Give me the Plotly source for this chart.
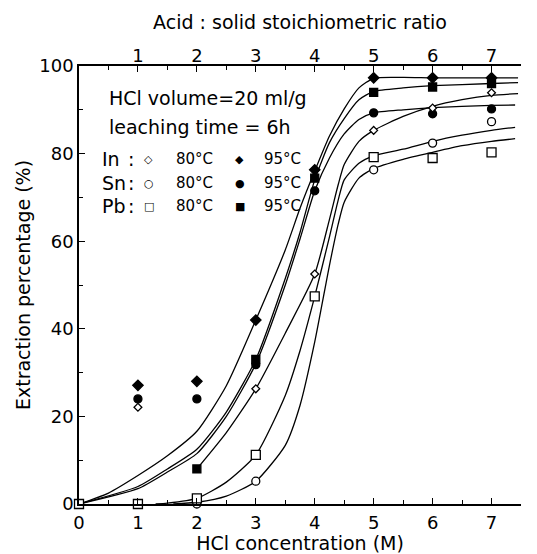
import plotly.graph_objects as go

# ---------------- data ----------------
conc = [0, 1, 2, 3, 4, 5, 6, 7]

# measured points (None = not visible / hidden)
in_80 = [None, 22.1, None, 26.3, 52.5, 85.3, 90.4, 93.9]
in_95 = [None, 27.1, 28.0, 42.0, 76.3, 97.3, 97.3, 97.3]
sn_80 = [None, None, 0.0, 5.2, None, 76.3, 82.4, 87.3]
sn_95 = [None, 24.0, 24.0, 31.8, 71.5, 89.3, 89.1, 90.2]
pb_80 = [0.0, 0.0, 1.3, 11.2, 47.4, 79.2, 79.0, 80.3]
pb_95 = [None, None, 8.0, 33.0, 74.4, 94.0, 95.2, 96.0]

# fitted curves
fit_in95_x = [0, 0.5, 1, 1.5, 2, 2.5, 3, 3.5, 3.75, 4, 4.25, 4.5, 4.75, 5, 5.5, 6, 6.5, 7, 7.45]
fit_in95_y = [0, 2.5, 6.5, 11, 16.6, 27, 42, 58, 67.5, 76, 84, 90.2, 95, 97.2, 97.4, 97.3, 97.3, 97.3, 97.3]

fit_pb95_x = [0, 1, 1.5, 2, 2.5, 3, 3.5, 3.75, 4, 4.25, 4.5, 4.75, 5, 5.5, 6, 7, 7.45]
fit_pb95_y = [0, 4, 8, 12.5, 21, 33, 51.5, 62, 74, 82.5, 88, 92.3, 94.2, 95, 95.5, 96, 96.2]

fit_sn95_x = [0, 1, 1.5, 2, 2.5, 3, 3.5, 3.75, 4, 4.25, 4.5, 4.75, 5, 5.5, 6, 7, 7.4]
fit_sn95_y = [0, 3.5, 7.3, 11.5, 20, 32, 50, 60.5, 71.5, 79, 84.5, 87.8, 89.3, 90, 90.5, 91, 91.1]

fit_in80_x = [2, 2.5, 3, 3.5, 4, 4.25, 4.4, 4.5, 4.75, 5, 5.5, 6, 6.5, 7, 7.45]
fit_in80_y = [8, 16.3, 26.3, 39, 52.5, 65, 73, 77.5, 82.8, 85.3, 88.5, 90.8, 92.3, 93.3, 93.7]

fit_pb80_x = [1.3, 1.5, 2, 2.5, 3, 3.5, 3.75, 4, 4.25, 4.4, 4.5, 4.75, 5, 5.5, 6, 6.5, 7, 7.4]
fit_pb80_y = [0, 0.2, 1.3, 5, 11.2, 24.8, 35, 47.4, 61, 69.5, 74, 77.8, 79.5, 81, 82.8, 84.2, 85.3, 86]

fit_sn80_x = [1.6, 2, 2.5, 3, 3.5, 3.75, 4, 4.25, 4.4, 4.5, 4.75, 5, 5.5, 6, 6.5, 7, 7.4]
fit_sn80_y = [0, 0.4, 1.8, 5.2, 13.4, 22.5, 37, 54.5, 64, 68.9, 74.4, 76.6, 78.7, 80.3, 81.8, 82.8, 83.4]

top_ticks = [1, 2, 3, 4, 5, 6, 7]
y_ticks = [0, 20, 40, 60, 80, 100]

# ---------------- figure ----------------
FONT = "DejaVu Sans"
fig = go.Figure()

curves = [
    (fit_in95_x, fit_in95_y), (fit_pb95_x, fit_pb95_y), (fit_sn95_x, fit_sn95_y),
    (fit_in80_x, fit_in80_y), (fit_pb80_x, fit_pb80_y), (fit_sn80_x, fit_sn80_y),
]
for cx, cy in curves:
    fig.add_trace(go.Scatter(x=cx, y=cy, mode="lines",
                             line=dict(color="black", width=1.3, shape="spline", smoothing=0.6),
                             hoverinfo="skip", showlegend=False, cliponaxis=False))

def pts(vals, symbol, size, filled):
    fig.add_trace(go.Scatter(
        x=conc, y=vals, mode="markers", showlegend=False, cliponaxis=False,
        marker=dict(symbol=symbol, size=size,
                    color="black" if filled else "white",
                    line=dict(color="black", width=1.3))))

pts(in_95, "diamond", 8, True)
pts(sn_95, "circle", 8, True)
pts(pb_95, "square", 8, True)
pts(in_80, "diamond", 6, False)
pts(sn_80, "circle", 8, False)
pts(pb_80, "square", 9, False)

# top axis carrier (invisible)
fig.add_trace(go.Scatter(x=[None], y=[None], xaxis="x2", showlegend=False, hoverinfo="skip"))

axis_common = dict(showgrid=False, zeroline=False, showline=True, linecolor="black",
                   linewidth=1.6, ticks="inside", tickcolor="black", tickwidth=1.3,
                   ticklen=6, automargin=False,
                   tickfont=dict(family=FONT, size=18, color="black"))

fig.update_layout(
    width=537, height=554,
    margin=dict(l=79, r=16, t=66, b=50),
    paper_bgcolor="white", plot_bgcolor="white",
    font=dict(family=FONT, color="black"),
    xaxis=dict(range=[0, 7.5], tickvals=conc, ticktext=[str(v) for v in conc],
               ticklabelstandoff=2,
               minor=dict(dtick=0.5, tick0=0, ticks="inside", ticklen=4, tickcolor="black"),
               title=dict(text="HCl concentration (M)", font=dict(family=FONT, size=19), standoff=2),
               **axis_common),
    xaxis2=dict(range=[0, 7.5], overlaying="x", side="top", tickvals=top_ticks,
                ticktext=[str(v) for v in top_ticks], ticklabelstandoff=-5,
                minor=dict(dtick=0.5, tick0=0, ticks="inside", ticklen=4, tickcolor="black"),
                title=dict(text="Acid : solid stoichiometric ratio", font=dict(family=FONT, size=19), standoff=10),
                **axis_common),
    yaxis=dict(range=[0, 100], tickvals=y_ticks, ticktext=[str(v) for v in y_ticks],
               minor=dict(dtick=10, tick0=0, ticks="inside", ticklen=4, tickcolor="black"),
               title=dict(text="Extraction percentage (%)", font=dict(family=FONT, size=19), standoff=4),
               **axis_common),
)

# in-plot legend / conditions text (paper coords)
def px2paper(px, py):
    return (px - 79) / 442.5, (504 - py) / 438

def note(text, px, py, size=18, xanchor="left"):
    x, y = px2paper(px, py)
    fig.add_annotation(text=text, x=x, y=y, xref="paper", yref="paper", showarrow=False,
                       xanchor=xanchor, yanchor="middle", font=dict(family=FONT, size=size, color="black"))

note("HCl volume=20 ml/g", 107, 98, 19)
note("leaching time = 6h", 107, 127, 19)
rows = [("In", "◇", "◆", 159), ("Sn", "○", "●", 183), ("Pb", "□", "■", 206)]
for name, op, fi, py in rows:
    note(name, 100, py, 19)
    note(":", 131, py, 19, "center")
    note(op, 149, py, 11, "center")
    note("80°C", 174, py, 15)
    note(fi, 240, py, 11, "center")
    note("95°C", 262, py, 15)

fig.write_html("out.html")
